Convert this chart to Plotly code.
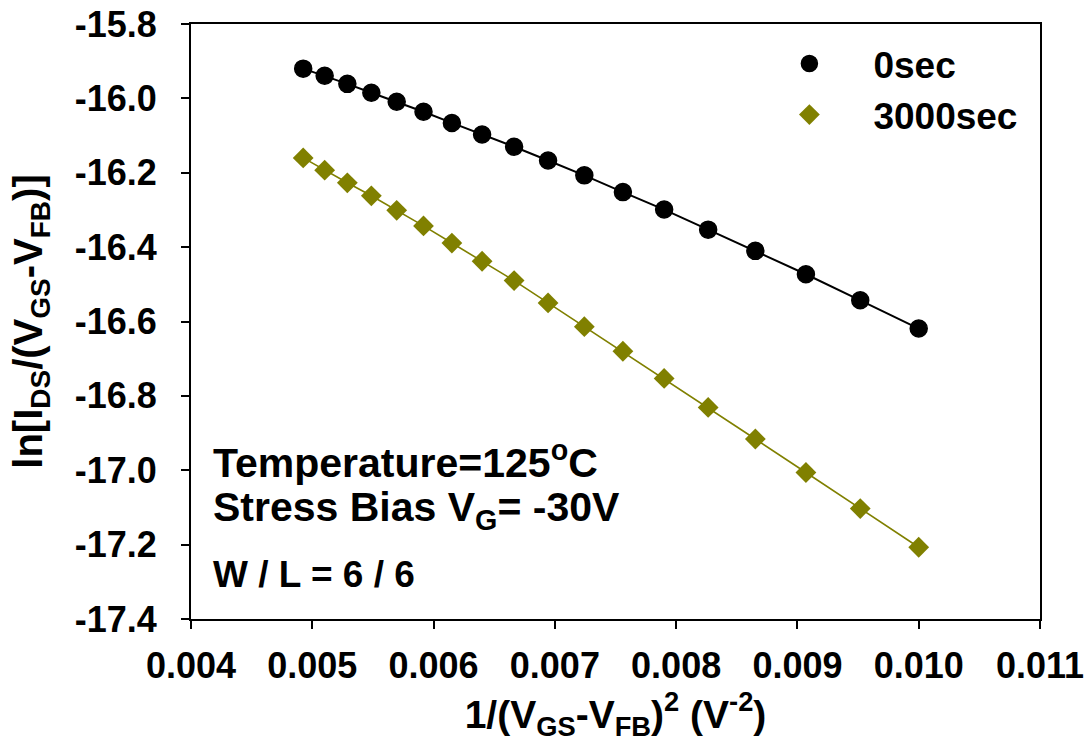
import plotly.graph_objects as go

# ---- data ----
x_inv_v2 = [0.004925, 0.005102, 0.005289, 0.005487, 0.005696, 0.005917,
            0.006151, 0.006400, 0.006664, 0.006944, 0.007243, 0.007561,
            0.007901, 0.008264, 0.008653, 0.009070, 0.009518, 0.010000]

y_0sec = [-15.920, -15.939, -15.961, -15.985, -16.009, -16.036,
          -16.066, -16.097, -16.130, -16.167, -16.207, -16.252,
          -16.299, -16.353, -16.410, -16.473, -16.543, -16.619]

y_3000sec = [-16.160, -16.193, -16.227, -16.262, -16.301, -16.343,
             -16.389, -16.438, -16.490, -16.550, -16.614, -16.680,
             -16.753, -16.831, -16.916, -17.006, -17.103, -17.207]

series_names = ["0sec", "3000sec"]

x_tick_vals = [0.004, 0.005, 0.006, 0.007, 0.008, 0.009, 0.010, 0.011]
x_tick_text = ["0.004", "0.005", "0.006", "0.007", "0.008", "0.009", "0.010", "0.011"]
y_tick_vals = [-15.8, -16.0, -16.2, -16.4, -16.6, -16.8, -17.0, -17.2, -17.4]
y_tick_text = ["-15.8", "-16.0", "-16.2", "-16.4", "-16.6", "-16.8", "-17.0", "-17.2", "-17.4"]

FONT = "Liberation Sans, Arial, sans-serif"
BLACK = "#000000"
OLIVE = "#808000"

fig = go.Figure()

# connecting lines (not in legend)
fig.add_trace(go.Scatter(x=x_inv_v2, y=y_0sec, mode="lines",
                         line=dict(color=BLACK, width=2), showlegend=False,
                         hoverinfo="skip"))
fig.add_trace(go.Scatter(x=x_inv_v2, y=y_3000sec, mode="lines",
                         line=dict(color=OLIVE, width=1.6), showlegend=False,
                         hoverinfo="skip"))

# markers
fig.add_trace(go.Scatter(x=x_inv_v2, y=y_0sec, mode="markers", name=series_names[0],
                         marker=dict(symbol="circle", size=17, color=BLACK,
                                     line=dict(color=BLACK, width=1.5))))
fig.add_trace(go.Scatter(x=x_inv_v2, y=y_3000sec, mode="markers", name=series_names[1],
                         marker=dict(symbol="diamond", size=16, color=OLIVE)))

axis_common = dict(
    showline=True, linecolor=BLACK, linewidth=2, mirror=True,
    ticks="outside", ticklen=8, tickwidth=2, tickcolor=BLACK,
    showgrid=False, zeroline=False,
    tickfont=dict(family=FONT, size=36, color=BLACK, weight="bold"),
)

fig.update_xaxes(
    range=[0.004, 0.011], tickvals=x_tick_vals, ticktext=x_tick_text,
    title=dict(text="1/(V<sub>GS</sub>-V<sub>FB</sub>)<sup>2</sup> (V<sup>-2</sup>)",
               font=dict(family=FONT, size=39, color=BLACK, weight="bold"),
               standoff=5),
    ticklabelstandoff=6,
    **axis_common,
)
fig.update_yaxes(
    range=[-17.4, -15.8], tickvals=y_tick_vals, ticktext=y_tick_text,
    title=dict(text="ln[I<sub>DS</sub>/(V<sub>GS</sub>-V<sub>FB</sub>)]",
               font=dict(family=FONT, size=40, color=BLACK, weight="bold"),
               standoff=20),
    ticklabelstandoff=17,
    **axis_common,
)

ann_font = dict(family=FONT, size=41, color=BLACK, weight="bold")
fig.add_annotation(text="Temperature=125<sup>o</sup>C", xref="paper", yref="paper",
                   x=0.024, y=0.268, xanchor="left", yanchor="middle",
                   showarrow=False, font=ann_font)
fig.add_annotation(text="Stress Bias V<sub>G</sub>= -30V", xref="paper", yref="paper",
                   x=0.024, y=0.183, xanchor="left", yanchor="middle",
                   showarrow=False, font=ann_font)
fig.add_annotation(text="W / L = 6 / 6", xref="paper", yref="paper",
                   x=0.024, y=0.074, xanchor="left", yanchor="middle",
                   showarrow=False, font=dict(family=FONT, size=37, color=BLACK, weight="bold"))

fig.update_layout(
    width=1089, height=753,
    margin=dict(l=191, r=49, t=24, b=134, autoexpand=False),
    paper_bgcolor="white", plot_bgcolor="white",
    font=dict(family=FONT, color=BLACK),
    legend=dict(x=0.653, y=0.985, xanchor="left", yanchor="top",
                bgcolor="rgba(0,0,0,0)", borderwidth=0,
                font=dict(family=FONT, size=37, color=BLACK, weight="bold"),
                itemwidth=118, tracegroupgap=0),
    showlegend=True,
)

fig.write_html("out.html")
